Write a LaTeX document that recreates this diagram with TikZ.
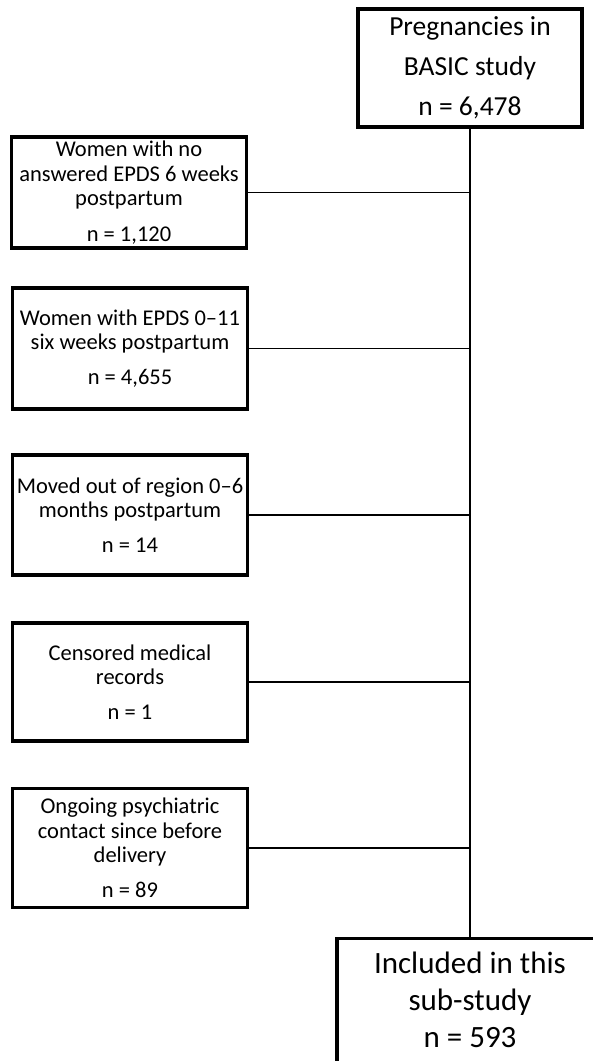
\documentclass[tikz,border=0pt]{standalone}
\usepackage{fontspec}
\setmainfont{Carlito}
\begin{document}
\begin{tikzpicture}[x=1pt,y=-1pt,
  sidebox/.style={draw=black,line width=3.3pt,fill=white,minimum width=235pt,minimum height=119pt,inner sep=0pt,align=center,font=\fontsize{22.5}{24.5}\selectfont},
  mainbox/.style={draw=black,line width=3.3pt,fill=white,inner sep=0pt,align=center},
  conn/.style={draw=black,line width=1.8pt}]
\clip (0,0) rectangle (593,1061);
\fill[white] (0,0) rectangle (593,1061);
\node[mainbox,minimum width=224pt,minimum height=118pt,font=\fontsize{27.5}{40}\selectfont] (top) at (470,68) {Pregnancies in\\BASIC study\\n = 6,478};
\node[mainbox,minimum width=266pt,minimum height=160pt,anchor=north] (bot) at (470,937) {};
\node[font=\fontsize{31}{37}\selectfont,align=center,anchor=north] (bottxt) at ([yshift=-5pt]bot.north) {\rule{0pt}{28pt}Included in this\\sub-study\\n = 593};
\node[sidebox,minimum height=111pt] (b1) at (129,192.5) {Women with no\\answered EPDS 6 weeks\\postpartum\\[11pt]n = 1,120};
\node[sidebox,minimum height=121pt] (b2) at (130,348.5) {Women with EPDS 0--11\\six weeks postpartum\\[10pt]n = 4,655};
\node[sidebox,minimum height=120pt] (b3) at (130,515) {Moved out of region 0--6\\months postpartum\\[10pt]n = 14};
\node[sidebox,minimum height=118pt] (b4) at (130,682) {Censored medical\\records\\[10pt]n = 1};
\node[sidebox,minimum height=119pt] (b5) at (130,848) {Ongoing psychiatric\\contact since before\\delivery\\[10pt]n = 89};
\draw[conn] (top.south) -- (bot.north);
\foreach \b in {b1,b2,b3,b4,b5}{\draw[conn] (\b.east) -- (\b.east -| top.south);}
\end{tikzpicture}
\end{document}
